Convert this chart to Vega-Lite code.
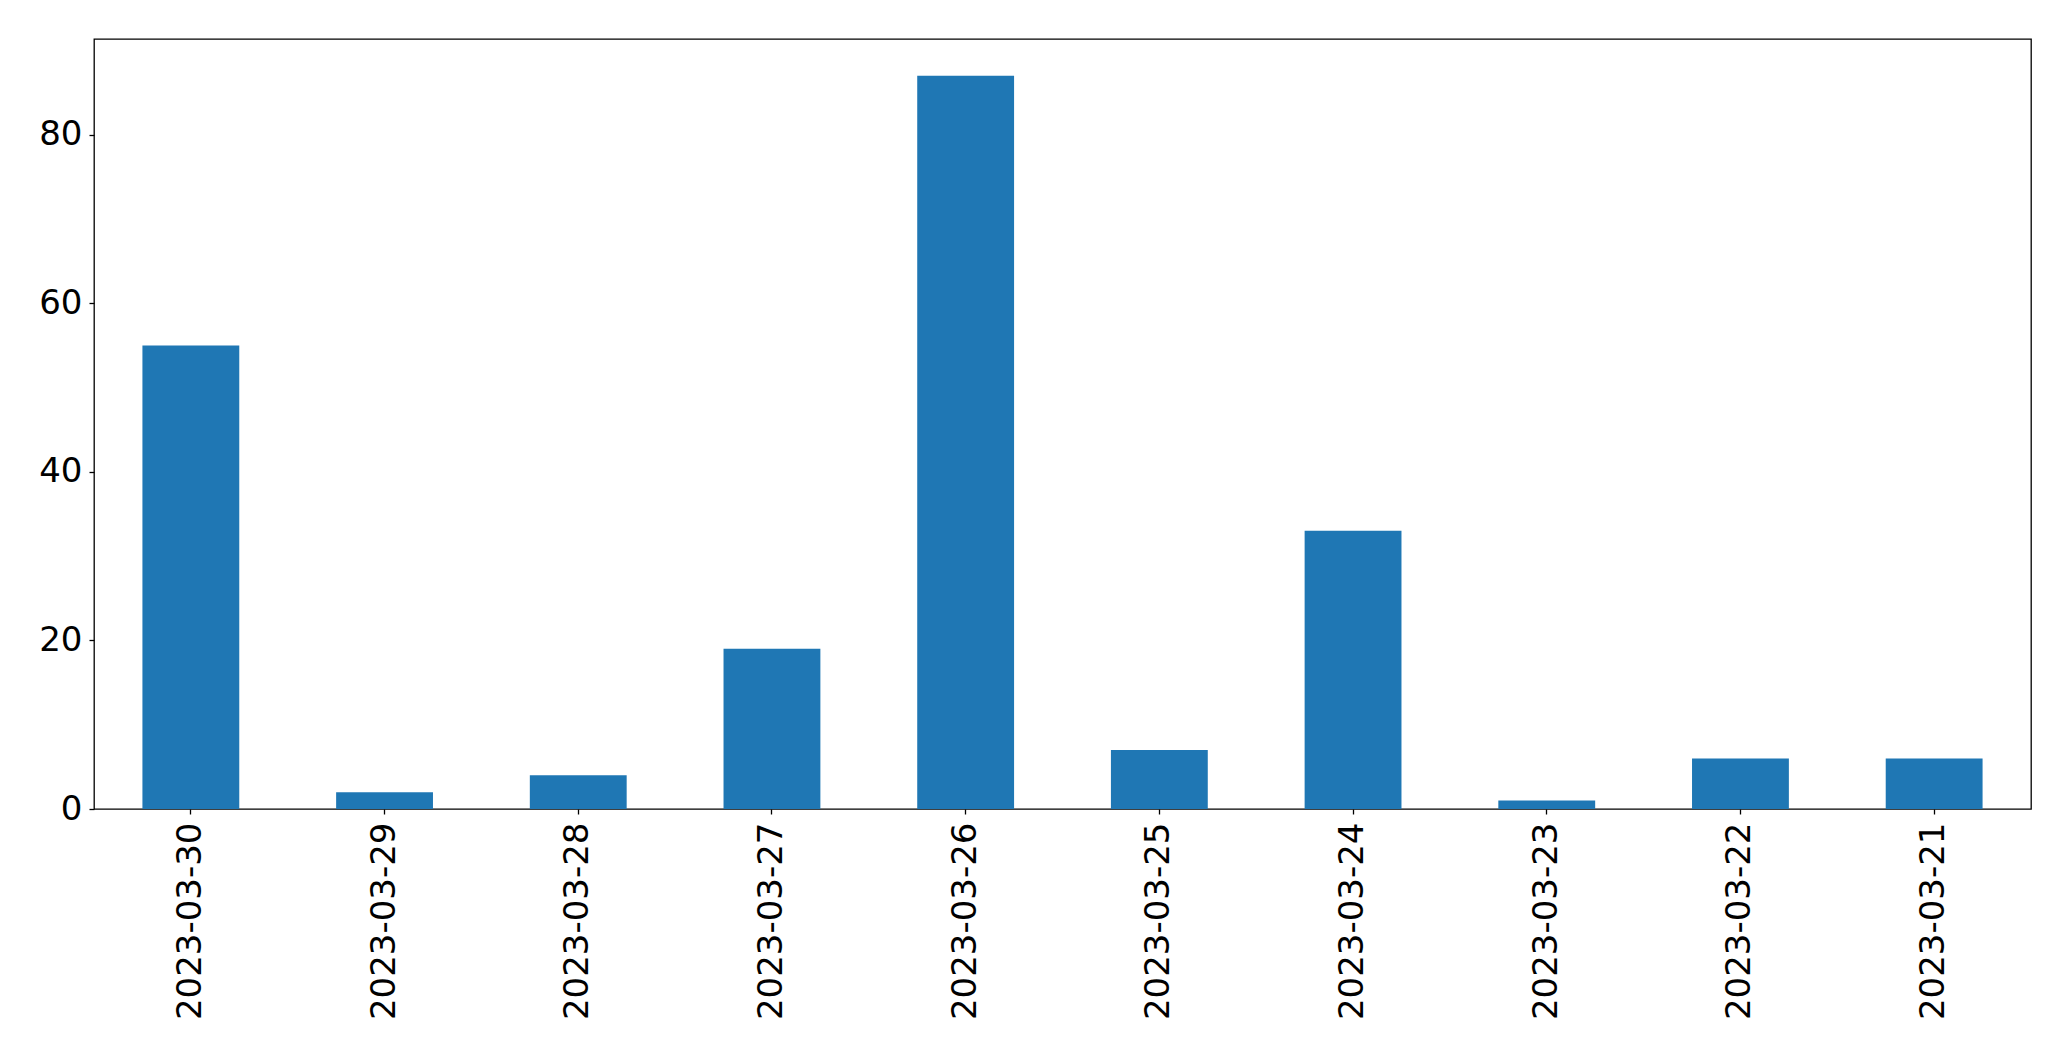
{
  "$schema": "https://vega.github.io/schema/vega-lite/v6.json",
  "autosize": {"type": "none"},
  "width": 1937,
  "height": 770,
  "padding": {"left": 94, "top": 39, "right": 40, "bottom": 252},
  "background": "white",
  "config": {
    "view": {"stroke": "black", "strokeWidth": 1.3},
    "font": "DejaVu Sans",
    "axis": {
      "labelFont": "DejaVu Sans",
      "labelFontSize": 34,
      "labelColor": "black",
      "labelLimit": 0,
      "tickColor": "black",
      "tickSize": 5,
      "tickWidth": 1.3,
      "domain": false,
      "grid": false,
      "title": null
    }
  },
  "data": {
    "values": [
      {"date": "2023-03-30", "count": 55},
      {"date": "2023-03-29", "count": 2},
      {"date": "2023-03-28", "count": 4},
      {"date": "2023-03-27", "count": 19},
      {"date": "2023-03-26", "count": 87},
      {"date": "2023-03-25", "count": 7},
      {"date": "2023-03-24", "count": 33},
      {"date": "2023-03-23", "count": 1},
      {"date": "2023-03-22", "count": 6},
      {"date": "2023-03-21", "count": 6}
    ]
  },
  "mark": {"type": "bar", "color": "#1f77b4"},
  "encoding": {
    "x": {
      "field": "date",
      "type": "nominal",
      "sort": null,
      "scale": {"paddingInner": 0.5, "paddingOuter": 0.25},
      "axis": {"labelAngle": -90, "labelPadding": 8, "labelLimit": 0}
    },
    "y": {
      "field": "count",
      "type": "quantitative",
      "scale": {"domain": [0, 91.35], "nice": false, "zero": true},
      "axis": {"values": [0, 20, 40, 60, 80], "labelPadding": 7}
    }
  }
}
